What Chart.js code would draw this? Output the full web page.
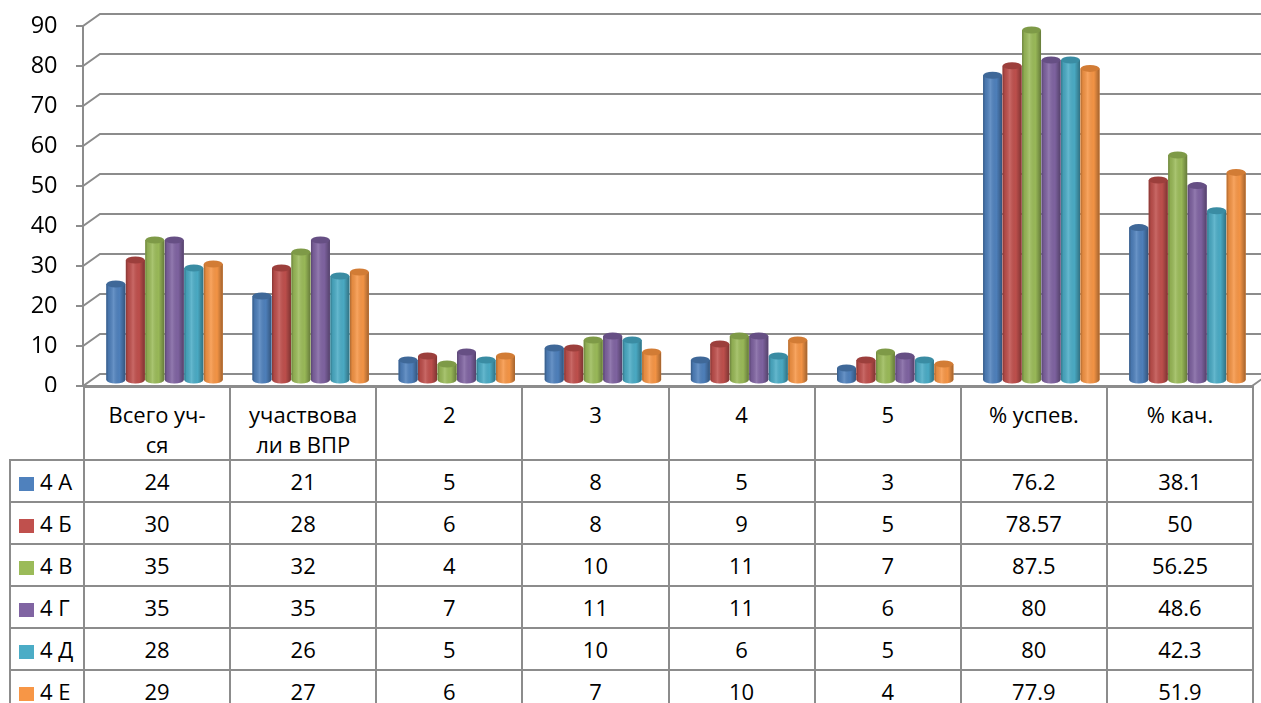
<!DOCTYPE html>
<html lang="ru">
<head>
<meta charset="utf-8">
<title>ВПР 4 классы</title>
<script src="https://cdn.jsdelivr.net/npm/chart.js@4.4.1/dist/chart.umd.min.js"></script>
<style>
  html, body { margin: 0; padding: 0; background: #fff; }
  body { width: 1261px; height: 703px; overflow: hidden; position: relative; font-family: "Open Sans", sans-serif; }
  #wrap { position: absolute; left: 0; top: 0; width: 1261px; height: 392px; z-index: 2; }
  #dataTable { position: absolute; left: 9px; top: 386px; border-collapse: collapse; table-layout: fixed;
               font-size: 22px; color: #000; z-index: 1; }
  #dataTable td { border: 2px solid #8c8c8c; text-align: center; padding: 0; white-space: nowrap; }
  #dataTable tr.head td { height: 72px; vertical-align: top; padding-top: 11px; line-height: 30px; box-sizing: border-box; }
  #dataTable tr.head td.corner { border-top: none; border-left: none; }
  #dataTable tr.row td { height: 40px; line-height: 30px; vertical-align: middle; }
  #dataTable td.name { text-align: left; padding-left: 8px; }
  .swatch { display: inline-block; width: 15px; height: 14px; margin-right: 6px; vertical-align: -1px; }
</style>
</head>
<body>
<div id="wrap"><canvas id="vprChart"></canvas></div>
<table id="dataTable"></table>
<script>
// ==================================== DATA ============================================

const categories = [["Всего уч-", "ся"], ["участвова", "ли в ВПР"], "2", "3", "4", "5", "% успев.", "% кач."];
const seriesNames = ["4 А", "4 Б", "4 В", "4 Г", "4 Д", "4 Е"];

const class4A = [24, 21, 5, 8, 5, 3, 76.2, 38.1];
const class4B = [30, 28, 6, 8, 9, 5, 78.57, 50];
const class4V = [35, 32, 4, 10, 11, 7, 87.5, 56.25];
const class4G = [35, 35, 7, 11, 11, 6, 80, 48.6];
const class4D = [28, 26, 5, 10, 6, 5, 80, 42.3];
const class4E = [29, 27, 6, 7, 10, 4, 77.9, 51.9];

const yTicks = [0, 10, 20, 30, 40, 50, 60, 70, 80, 90];

// ==================================== STYLE ============================================

const seriesValues = [class4A, class4B, class4V, class4G, class4D, class4E];
const barColors = ["#4f81bd", "#c0504d", "#9bbb59", "#8064a2", "#4bacc6", "#f79646"];
const capColors = ["#3f6898", "#9c3f3c", "#7e9a47", "#664f84", "#3a8ca3", "#d27c35"];
const GRID = "#8c8c8c";
const DX = 8.5; // half depth of the 3D box, x
const DY = 6;   // half depth of the 3D box, y
const RY = 3.5; // cylinder ellipse radius

Chart.defaults.font.family = "'Open Sans', sans-serif";
Chart.defaults.color = "#000";

// back wall, gridlines and floor of the 3D box
const wallPlugin = {
  id: "wall3d",
  beforeDatasetsDraw(chart) {
    const { ctx, scales: { x, y } } = chart;
    const fl = x.left - DX;
    const fr = x.right - DX;
    ctx.save();
    ctx.strokeStyle = GRID;
    ctx.lineWidth = 2;
    y.ticks.forEach((t) => {
      const py = y.getPixelForValue(t.value);
      ctx.beginPath();
      ctx.moveTo(fl - 7, py + DY);
      ctx.lineTo(fl, py + DY);
      ctx.lineTo(fl + 2 * DX, py - DY);
      ctx.lineTo(chart.width, py - DY);
      ctx.stroke();
    });
    ctx.beginPath();
    ctx.moveTo(fl, y.top + DY);
    ctx.lineTo(fl, y.bottom + DY);
    ctx.lineTo(fr, y.bottom + DY);
    ctx.lineTo(fr + 2 * DX, y.bottom - DY);
    ctx.stroke();
    ctx.restore();
  },
};

// cylinder shading on top of the bars
const cylinderPlugin = {
  id: "cylinder",
  afterDatasetsDraw(chart) {
    const ctx = chart.ctx;
    ctx.save();
    chart.data.datasets.forEach((ds, i) => {
      chart.getDatasetMeta(i).data.forEach((bar) => {
        const { x, y, base, width } = bar.getProps(["x", "y", "base", "width"], true);
        const l = x - width / 2;
        const r = x + width / 2;
        const shape = () => {
          ctx.beginPath();
          ctx.moveTo(l, y);
          ctx.lineTo(l, base);
          ctx.ellipse(x, base, width / 2, RY, 0, Math.PI, 0, true);
          ctx.lineTo(r, y);
          ctx.closePath();
        };
        ctx.fillStyle = ds.backgroundColor;
        shape();
        ctx.fill();
        const g = ctx.createLinearGradient(l, 0, r, 0);
        g.addColorStop(0, "rgba(0,0,0,0.30)");
        g.addColorStop(0.12, "rgba(0,0,0,0.08)");
        g.addColorStop(0.38, "rgba(255,255,255,0.14)");
        g.addColorStop(0.7, "rgba(0,0,0,0.02)");
        g.addColorStop(1, "rgba(0,0,0,0.34)");
        ctx.fillStyle = g;
        shape();
        ctx.fill();
        ctx.fillStyle = ds.capColor;
        ctx.beginPath();
        ctx.ellipse(x, y, width / 2, RY, 0, 0, Math.PI * 2);
        ctx.fill();
      });
    });
    ctx.restore();
  },
};

// ==================================== CHART ============================================

const canvas = document.getElementById("vprChart");

const chart = new Chart(canvas.getContext("2d"), {
  type: "bar",
  data: {
    labels: categories,
    datasets: seriesNames.map((name, i) => ({
      label: name,
      data: seriesValues[i],
      backgroundColor: barColors[i],
      capColor: capColors[i],
      borderWidth: 0,
      barPercentage: 0.97,
      categoryPercentage: 0.8,
    })),
  },
  options: {
    responsive: true,
    maintainAspectRatio: false,
    animation: false,
    devicePixelRatio: 1,
    layout: { padding: { left: 0, right: 0.5, top: 20, bottom: 12 } },
    plugins: { legend: { display: false }, tooltip: { enabled: false } },
    scales: {
      x: { display: false },
      y: {
        min: 0,
        max: 90,
        afterFit: (scale) => {
          scale.width = 91.5;
          scale.paddingTop = 0;
          scale.paddingBottom = 0;
        },
        afterBuildTicks: (scale) => { scale.ticks = yTicks.map((v) => ({ value: v })); },
        grid: { display: false, drawTicks: false },
        border: { display: false },
        ticks: { padding: 34, labelOffset: DY, font: { size: 23.5 }, color: "#000" },
      },
    },
  },
  plugins: [wallPlugin, cylinderPlugin],
});

// ==================================== DATA TABLE ============================================

function fillDataTable() {
  const x = chart.scales.x;
  const catW = (x.right - x.left) / categories.length;
  const firstW = x.left - DX - 9;
  const table = document.getElementById("dataTable");
  let html = `<colgroup><col style="width:${firstW}px">`;
  categories.forEach(() => { html += `<col style="width:${catW}px">`; });
  html += "</colgroup><tr class='head'><td class='corner'></td>";
  categories.forEach((c) => {
    html += `<td>${[].concat(c).join("<br>")}</td>`;
  });
  html += "</tr>";
  seriesNames.forEach((name, i) => {
    html += `<tr class='row'><td class='name'><span class='swatch' style='background:${barColors[i]}'></span>${name}</td>`;
    seriesValues[i].forEach((v) => { html += `<td>${v}</td>`; });
    html += "</tr>";
  });
  table.innerHTML = html;
}

fillDataTable();
</script>
</body>
</html>
